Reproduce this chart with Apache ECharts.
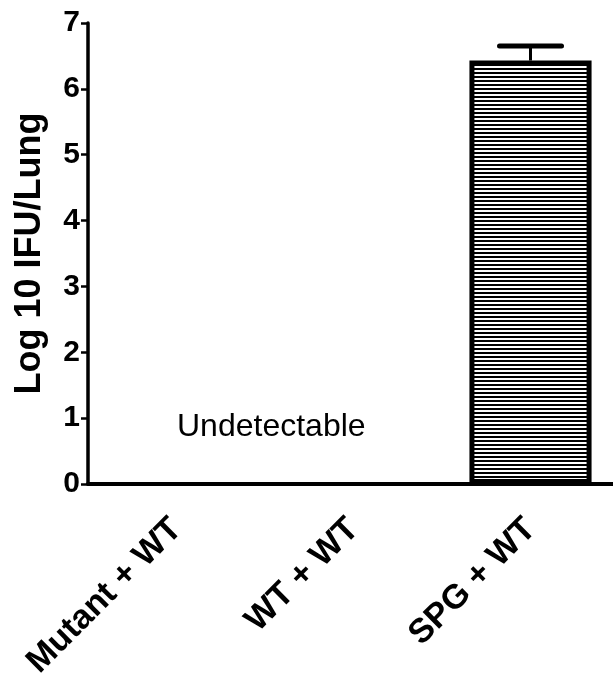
<!DOCTYPE html>
<html><head><meta charset="utf-8">
<script src="https://cdn.jsdelivr.net/npm/echarts@6/dist/echarts.min.js"></script>
<style>html,body{margin:0;padding:0;background:#fff}#c{width:613px;height:681px}</style>
</head><body><div id="c"></div>
<script>
const categories = ['Mutant + WT', 'WT + WT', 'SPG + WT'];
const means = [null, null, 6.43];   // first two groups: undetectable
const errUpper = [null, null, 6.65];
const yTicks = [0, 1, 2, 3, 4, 5, 6, 7];
const annotation = 'Undetectable';

const pc = document.createElement('canvas');
pc.width = 4; pc.height = 4;
const g = pc.getContext('2d');
g.fillStyle = '#fff'; g.fillRect(0, 0, 4, 4);
g.fillStyle = '#000'; g.fillRect(0, 0, 4, 2);

const chart = echarts.init(document.getElementById('c'));
const font = 'Liberation Sans, Arial, sans-serif';
chart.setOption({
  animation: false,
  backgroundColor: '#fff',
  grid: { left: 88, width: 531, top: 23, bottom: 197, containLabel: false, outerBoundsMode: 'none' },
  xAxis: {
    type: 'category', data: categories,
    axisLine: { lineStyle: { color: '#000', width: 4 } },
    axisTick: { alignWithLabel: true, length: 11, lineStyle: { color: '#000', width: 2 } },
    axisLabel: { rotate: 45, margin: 40, color: '#000', fontFamily: font, fontWeight: 'bold', fontSize: 34 }
  },
  yAxis: {
    type: 'value', min: yTicks[0], max: yTicks[yTicks.length - 1], interval: 1,
    name: 'Log 10 IFU/Lung', nameLocation: 'middle', nameRotate: 90, nameGap: 40,
    nameTextStyle: { color: '#000', fontFamily: font, fontWeight: 'bold', fontSize: 36 },
    axisLine: { show: true, lineStyle: { color: '#000', width: 3.5 } },
    axisTick: { show: true, length: 7, lineStyle: { color: '#000', width: 2.5 } },
    axisLabel: { margin: 8, color: '#000', fontFamily: font, fontWeight: 'bold', fontSize: 30 },
    splitLine: { show: false }
  },
  series: [
    {
      type: 'bar', data: means, barWidth: '69%',
      itemStyle: { color: { image: pc, repeat: 'repeat' }, borderColor: '#000', borderWidth: 5 },
      z: 2
    },
    {
      type: 'custom',
      data: errUpper.map((v, i) => [i, means[i], v]).filter(d => d[2] != null),
      renderItem: function (params, api) {
        const top = api.coord([api.value(0), api.value(2)]);
        const base = api.coord([api.value(0), api.value(1)]);
        const hw = 31;
        return {
          type: 'group',
          children: [
            { type: 'line', shape: { x1: top[0], y1: top[1], x2: base[0], y2: base[1] }, style: { stroke: '#000', lineWidth: 3 } },
            { type: 'line', shape: { x1: top[0] - hw, y1: top[1], x2: top[0] + hw, y2: top[1] }, style: { stroke: '#000', lineWidth: 5, lineCap: 'round' } }
          ]
        };
      },
      z: 1
    }
  ],
  graphic: [
    { type: 'text', left: 177, top: 411, style: { text: annotation, fill: '#000', font: '32px ' + font } }
  ]
});
</script></body></html>
